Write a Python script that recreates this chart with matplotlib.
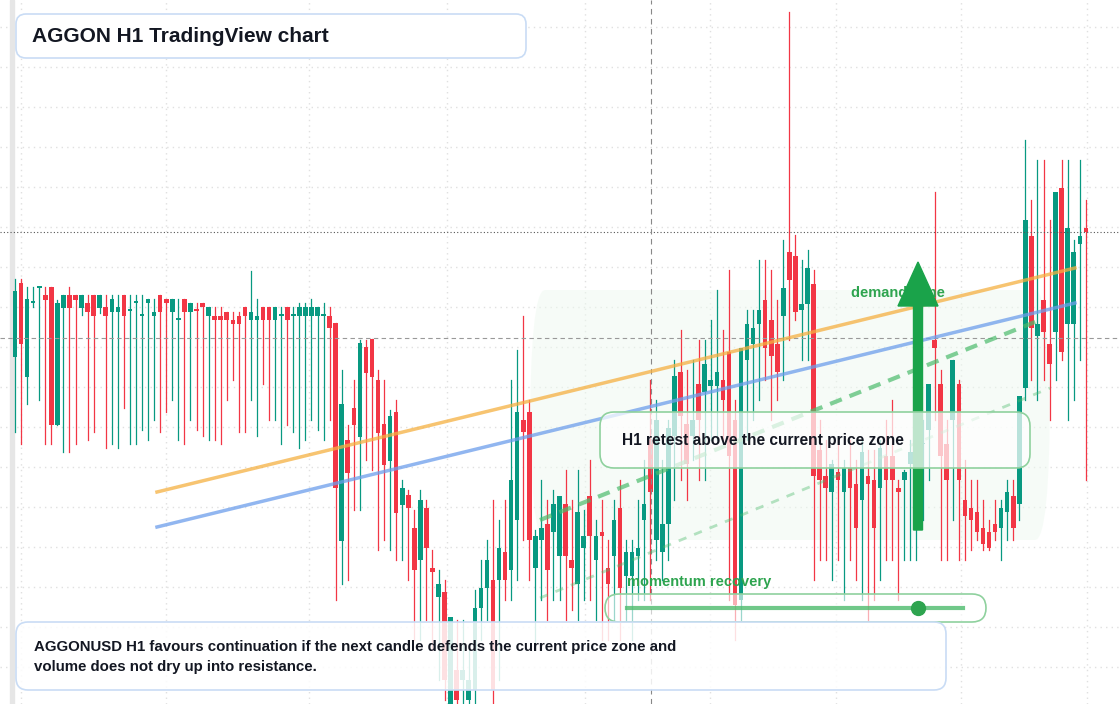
import matplotlib.pyplot as plt
from matplotlib.patches import FancyBboxPatch, FancyArrow

plt.rcParams["font.family"] = ["Liberation Sans", "DejaVu Sans"]

# OHLC candles, H1
opens = [64.3, 71.7, 62.3, 69.7, 71.2, 70.5, 71.3, 57.5, 69.2, 70.5,
         70.5, 69.2, 69.7, 70.5, 69.2, 69.3, 68.8, 68.8, 70.5, 68.9,
         69.7, 68.4, 69.7, 68.4, 70.5, 70.1, 68.8, 68.0, 70.1, 68.8,
         69.0, 69.7, 68.4, 68.4, 68.4, 68.8, 68.0, 68.4, 69.3, 68.0,
         68.0, 69.3, 69.3, 68.0, 68.4, 69.3, 68.4, 68.4, 68.4, 68.4,
         68.4, 68.4, 68.4, 67.7, 45.9, 56.0, 59.2, 56.3, 65.3, 66.1,
         62.0, 57.6, 53.9, 58.8, 49.5, 50.5, 47.2, 44.0, 49.2, 43.2,
         40.3, 40.8, 29.6, 33.0, 32.0, 30.0, 31.0, 39.2, 41.2, 42.0,
         42.0, 44.8, 43.0, 48.0, 58.0, 58.8, 43.2, 46.0, 47.6, 46.8,
         44.4, 49.6, 44.0, 41.6, 45.2, 50.4, 44.0, 46.8, 43.2, 44.4,
         49.2, 42.4, 42.4, 44.4, 48.0, 56.0, 46.0, 44.8, 47.6, 56.4,
         62.8, 57.6, 56.4, 61.6, 60.8, 61.4, 61.4, 62.0, 64.8, 58.0,
         40.0, 64.0, 65.6, 67.6, 70.0, 68.0, 65.6, 68.4, 74.8, 74.4,
         69.0, 69.6, 71.6, 55.0, 52.4, 50.8, 52.8, 50.8, 53.2, 51.6,
         50.0, 52.4, 52.0, 51.2, 54.4, 54.4, 51.2, 52.0, 53.6, 55.0,
         55.6, 57.0, 66.0, 61.6, 55.6, 58.0, 61.6, 50.0, 49.2, 48.8,
         47.2, 46.8, 47.6, 47.2, 48.8, 50.4, 49.6, 61.2, 76.4, 66.4,
         70.0, 65.6, 66.8, 81.2, 67.6, 67.6, 75.6, 77.2]
highs = [72.1, 72.1, 71.3, 71.3, 71.3, 71.3, 71.3, 70.0, 70.5, 71.3,
         70.5, 70.5, 70.5, 70.5, 70.5, 70.5, 70.5, 70.5, 70.5, 70.5,
         70.5, 70.5, 70.1, 70.1, 70.5, 70.1, 70.1, 70.1, 70.1, 69.7,
         69.7, 69.7, 69.3, 69.3, 69.3, 68.8, 68.8, 68.8, 69.3, 72.9,
         70.1, 69.3, 69.3, 69.3, 69.3, 69.3, 69.3, 69.7, 69.7, 70.1,
         69.3, 69.7, 69.3, 67.7, 63.0, 57.5, 62.0, 66.0, 66.0, 66.1,
         63.0, 62.0, 59.0, 60.0, 52.0, 51.0, 49.0, 51.0, 50.0, 45.0,
         43.0, 42.0, 37.0, 38.0, 38.0, 35.0, 41.0, 44.0, 46.0, 50.0,
         48.0, 50.0, 62.0, 65.0, 68.4, 60.0, 47.0, 52.0, 50.0, 51.0,
         50.0, 53.0, 50.0, 53.0, 49.0, 54.0, 48.0, 50.0, 46.0, 50.0,
         52.0, 46.0, 46.0, 50.0, 54.0, 62.0, 60.0, 54.0, 58.0, 64.0,
         67.0, 63.0, 64.0, 66.0, 66.0, 68.0, 71.0, 67.0, 73.0, 60.0,
         62.0, 69.0, 69.0, 74.0, 74.0, 73.0, 70.0, 76.0, 98.8, 76.5,
         74.0, 75.0, 73.0, 58.0, 56.0, 54.0, 56.0, 54.0, 56.0, 54.0,
         56.0, 55.0, 55.0, 56.0, 58.0, 60.0, 52.0, 53.0, 56.0, 58.0,
         58.0, 60.0, 80.8, 63.0, 58.0, 64.0, 62.0, 54.0, 52.0, 52.0,
         50.0, 48.0, 50.0, 50.0, 52.0, 52.0, 58.0, 86.0, 80.0, 84.0,
         84.0, 78.0, 80.0, 84.0, 84.0, 76.0, 84.0, 80.0]
lows = [56.8, 55.6, 59.6, 69.3, 60.0, 55.6, 55.6, 57.5, 54.8, 54.8,
        55.6, 68.5, 56.0, 56.8, 68.7, 55.2, 55.6, 55.2, 59.2, 55.6,
        55.6, 57.0, 56.0, 58.0, 56.8, 58.8, 60.0, 56.0, 55.6, 58.0,
        57.0, 56.4, 56.0, 56.0, 55.6, 60.0, 62.0, 56.8, 56.8, 60.0,
        56.4, 61.6, 58.0, 58.0, 55.6, 57.5, 56.8, 55.2, 56.0, 58.0,
        57.0, 56.0, 58.0, 40.0, 41.6, 42.0, 49.0, 49.0, 54.0, 53.0,
        45.0, 46.0, 45.0, 44.0, 44.0, 42.0, 36.0, 36.0, 38.0, 35.0,
        32.0, 30.0, 28.0, 28.0, 29.0, 28.0, 29.0, 36.0, 38.0, 28.0,
        32.0, 40.0, 40.0, 42.0, 46.0, 42.0, 35.0, 40.0, 38.0, 40.0,
        40.0, 38.0, 39.0, 38.0, 40.0, 40.0, 38.0, 36.0, 36.0, 38.0,
        36.0, 38.0, 36.0, 40.0, 40.0, 40.0, 44.0, 42.0, 44.0, 50.0,
        52.0, 50.0, 54.0, 52.0, 52.0, 56.0, 56.0, 56.0, 40.0, 36.0,
        38.0, 56.0, 58.0, 60.0, 62.0, 58.0, 60.0, 62.0, 66.0, 68.0,
        64.0, 64.0, 42.0, 44.0, 44.0, 42.0, 44.0, 40.0, 44.0, 42.0,
        40.0, 38.0, 40.0, 42.0, 44.0, 44.0, 40.0, 44.0, 44.0, 44.0,
        48.0, 52.0, 58.0, 44.0, 44.0, 48.0, 44.0, 44.0, 45.0, 46.0,
        45.0, 45.0, 46.0, 44.0, 46.0, 46.0, 48.0, 60.0, 62.0, 60.0,
        62.0, 58.0, 62.0, 64.0, 58.0, 60.0, 64.0, 52.0]
closes = [70.9, 65.6, 70.1, 69.8, 71.2, 70.0, 57.5, 69.7, 70.5, 69.2,
          70.0, 70.5, 68.8, 68.4, 70.5, 68.4, 70.1, 69.3, 68.4, 68.9,
          69.7, 68.4, 70.1, 68.8, 68.8, 69.7, 70.1, 68.0, 68.8, 69.7,
          68.9, 69.3, 69.3, 68.0, 68.0, 68.0, 67.6, 67.6, 68.4, 68.8,
          68.4, 68.0, 68.0, 69.3, 68.4, 68.0, 68.4, 69.3, 69.3, 69.3,
          69.3, 68.4, 67.2, 51.2, 59.6, 52.7, 57.5, 65.7, 62.7, 62.3,
          56.7, 53.5, 58.4, 48.7, 51.2, 49.2, 43.0, 50.0, 45.2, 42.8,
          41.6, 32.0, 38.3, 30.0, 33.0, 32.0, 39.2, 41.2, 44.0, 31.0,
          45.2, 42.0, 52.0, 58.8, 56.8, 46.0, 46.4, 47.2, 43.0, 49.6,
          50.4, 44.4, 43.2, 48.8, 46.4, 46.4, 46.4, 46.4, 41.6, 48.0,
          41.2, 44.8, 44.8, 45.2, 49.6, 50.8, 58.0, 47.6, 57.2, 62.4,
          58.4, 53.6, 58.0, 58.0, 63.6, 62.0, 62.8, 60.0, 54.4, 39.5,
          65.2, 67.6, 67.2, 69.0, 65.2, 64.4, 62.8, 71.2, 72.0, 68.8,
          69.6, 73.2, 52.4, 52.0, 51.2, 53.6, 52.0, 53.2, 51.2, 47.2,
          54.8, 51.6, 47.2, 55.2, 52.0, 52.0, 50.8, 52.8, 54.8, 56.0,
          55.6, 61.6, 65.2, 54.4, 52.0, 64.0, 52.0, 48.4, 48.0, 46.8,
          45.6, 45.2, 46.8, 49.2, 50.8, 47.2, 60.4, 78.0, 67.2, 67.6,
          66.8, 63.6, 80.8, 64.8, 77.2, 74.8, 76.4, 76.8]

resistance_level = 76.8
pivot_level = 66.2

title = "AGGON H1 TradingView chart"
retest_text = "H1 retest above the current price zone"
note_text = ("AGGONUSD H1 favours continuation if the next candle defends the current price zone and\n"
             "volume does not dry up into resistance.")

UP = "#089981"
DOWN = "#f23645"

fig = plt.figure(figsize=(11.2, 7.04), dpi=100)
ax = fig.add_axes([0, 0, 1, 1])
ax.set_xlim(0, 1120)
ax.set_ylim(29.6, 100)
ax.axis("off")

# grid
for gx in [21, 166, 309, 447, 585, 710, 836, 961, 1087]:
    ax.axvline(gx, color="#e0e0e0", lw=1, ls=(0, (1, 3)), zorder=0)
for gy in range(27, 704, 40):
    ax.axhline(100 - gy / 10, color="#e0e0e0", lw=1, ls=(0, (1, 3)), zorder=0)
ax.axvspan(10, 14, color="#e6e6e6", zorder=0)

# faint demand zone background
ax.add_patch(FancyBboxPatch((530, 100 - 540 / 10), 520, 25, boxstyle="round,pad=0,rounding_size=15",
                            fc="#eef9f0", ec="none", alpha=0.5, zorder=0.5))

for i, (o, h, l, c) in enumerate(zip(opens, highs, lows, closes)):
    x = 15 + i * 6.05
    col = UP if c >= o else DOWN
    ax.plot([x, x], [l, h], color=col, lw=0.9, zorder=2)
    ax.bar(x, max(abs(c - o), 0.15), bottom=min(o, c), width=4.6, color=col, zorder=2)

ax.axhline(resistance_level, color="#555555", lw=0.8, ls=(0, (1, 2)), zorder=3)
ax.axhline(pivot_level, color="#999999", lw=0.8, ls=(0, (4, 3)), zorder=3)
ax.axvline(651, color="#888888", lw=0.8, ls=(0, (5, 4)), zorder=3)

# trend lines
ax.plot([157, 1075], [100 - 49.2, 100 - 26.8], color="#f5b041", lw=2.5, alpha=0.75, zorder=4)
ax.plot([157, 1075], [100 - 52.7, 100 - 30.3], color="#6d9eeb", lw=2.5, alpha=0.75, zorder=4)
ax.plot([540, 1040], [48.0, 68.0], color="#4cbb6c", lw=3, ls=(0, (3, 2)), alpha=0.7, zorder=4)
ax.plot([540, 1050], [40.2, 61.2], color="#4cbb6c", lw=2, ls=(0, (3, 3)), alpha=0.4, zorder=4)

# overlay in pixel coordinates
ov = fig.add_axes([0, 0, 1, 1])
ov.set_xlim(0, 1120)
ov.set_ylim(704, 0)
ov.axis("off")
ov.patch.set_alpha(0)

ov.text(851, 293, "demand zone", color="#2ea44f", fontsize=10.5, fontweight="bold", va="center", zorder=5)
ov.add_patch(FancyArrow(918, 530, 0, -268, width=9, head_width=40, head_length=44,
                        length_includes_head=True, color="#1aa34a", zorder=6))

def box(x0, y0, x1, y1, ec, alpha, r=10):
    ov.add_patch(FancyBboxPatch((x0, y0), x1 - x0, y1 - y0, boxstyle=f"round,pad=0,rounding_size={r}",
                                fc=(1, 1, 1, alpha), ec=ec, lw=1.2, zorder=7))

box(16, 14, 526, 58, "#c9dcf5", 1.0)
ov.text(32, 36, title, fontsize=15, fontweight="bold", color="#131722", va="center", zorder=8)

box(600, 412, 1030, 468, "#8fd19e", 0.72, 14)
ov.text(622, 441, retest_text, fontsize=11.2, fontweight="bold", color="#131722", va="center", zorder=8)

ov.text(627, 582, "momentum recovery", fontsize=10.5, fontweight="bold", color="#2ea44f", va="center", zorder=8)
box(605, 594, 986, 622, "#8fd19e", 0.6, 14)
ov.plot([627, 963], [608, 608], color="#4cbb6c", lw=3, alpha=0.8, zorder=8)
ov.plot(918, 608, "o", color="#2ea44f", ms=10, zorder=9)

box(16, 622, 946, 690, "#c9dcf5", 0.85, 12)
ov.text(34, 657, note_text, fontsize=10.8, fontweight="bold", color="#131722", va="center",
        linespacing=1.5, zorder=8)

fig.savefig("out.png", dpi=100)
